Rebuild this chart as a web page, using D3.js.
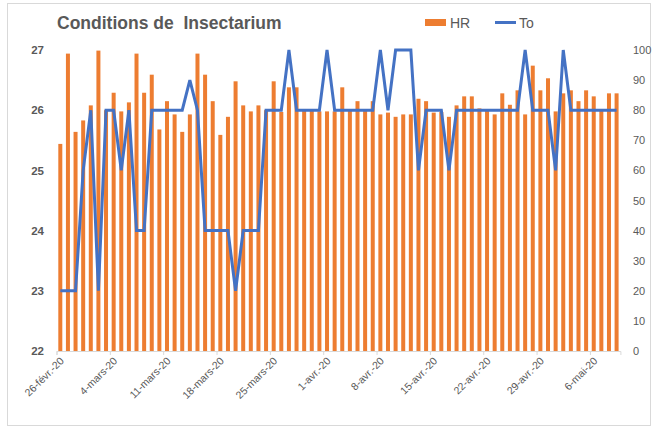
<!DOCTYPE html>
<html>
<head>
<meta charset="utf-8">
<script src="https://cdn.jsdelivr.net/npm/d3@7"></script>
<style>
  body { margin: 0; background: #fff; }
  svg { display: block; font-family: "Liberation Sans", Arial, sans-serif; }
</style>
</head>
<body>
<div id="chart"></div>
<script>
// Daily readings, 26 Feb 2020 -> 9 May 2020
const startDate = new Date(2020, 1, 26);
const hr = [
  25.44, 26.94, 25.64, 25.83, 26.08, 26.99, 26.00, 26.29, 25.98, 26.13,
  26.94, 26.29, 26.59, 25.68, 26.15, 25.93, 25.64, 25.93, 26.94, 26.59,
  26.15, 25.59, 25.89, 26.48, 26.08, 25.98, 26.08, 26.00, 26.48, 25.97,
  26.38, 26.38, 26.02, 26.02, 25.98, 25.98, 25.98, 26.38, 26.00, 26.15,
  26.00, 26.15, 25.93, 25.96, 25.89, 25.93, 25.93, 26.19, 26.15, 25.96,
  25.97, 25.89, 26.08, 26.23, 26.23, 26.03, 26.00, 25.93, 26.28, 26.09,
  26.33, 25.93, 26.74, 26.33, 26.53, 25.98, 26.28, 26.33, 26.15, 26.33,
  26.23, 26.02, 26.28, 26.28
];
const to = [
  20, 20, 20, 60, 80, 20, 80, 80, 60, 80,
  40, 40, 80, 80, 80, 80, 80, 90, 80, 40,
  40, 40, 40, 20, 40, 40, 40, 80, 80, 80,
  100, 80, 80, 80, 80, 100, 80, 80, 80, 80,
  80, 80, 100, 80, 100, 100, 100, 60, 80, 80,
  80, 60, 80, 80, 80, 80, 80, 80, 80, 80,
  80, 100, 80, 80, 80, 60, 100, 80, 80, 80,
  80, 80, 80, 80
];
const tickDates = [
  new Date(2020, 1, 26), new Date(2020, 2, 4), new Date(2020, 2, 11),
  new Date(2020, 2, 18), new Date(2020, 2, 25), new Date(2020, 3, 1),
  new Date(2020, 3, 8), new Date(2020, 3, 15), new Date(2020, 3, 22),
  new Date(2020, 3, 29), new Date(2020, 4, 6)
];
const tickLabels = [
  "26-févr.-20", "4-mars-20", "11-mars-20", "18-mars-20", "25-mars-20",
  "1-avr.-20", "8-avr.-20", "15-avr.-20", "22-avr.-20", "29-avr.-20", "6-mai-20"
];
const leftTicks = [22, 23, 24, 25, 26, 27];
const rightTicks = [0, 10, 20, 30, 40, 50, 60, 70, 80, 90, 100];

const width = 654, height = 430;
const textColor = "#595959", axisColor = "#d9d9d9";
const orange = "#ED7D31", blue = "#4472C4";

const days = hr.map((d, i) => d3.timeDay.offset(startDate, i));
const endDate = d3.timeDay.offset(startDate, hr.length);

const x = d3.scaleTime().domain([startDate, endDate]).range([56.5, 620.4]);
const yL = d3.scaleLinear().domain([22, 27]).range([351, 50]);
const yR = d3.scaleLinear().domain([0, 100]).range([351, 50]);
const center = d => x(d3.timeHour.offset(d, 12));

const svg = d3.select("#chart").append("svg")
    .attr("width", width)
    .attr("height", height);

// chart area border
svg.append("rect")
    .attr("x", 7.5).attr("y", 3.5)
    .attr("width", 643).attr("height", 422)
    .attr("fill", "none")
    .attr("stroke", axisColor);

// bars (HR)
svg.append("g")
  .selectAll("rect")
  .data(hr)
  .join("rect")
    .attr("x", (d, i) => center(days[i]) - 2)
    .attr("y", d => yL(d))
    .attr("width", 4)
    .attr("height", d => yL(22) - yL(d))
    .attr("fill", orange);

// bottom axis
const xAxis = d3.axisBottom(x)
    .tickValues(tickDates)
    .tickFormat((d, i) => tickLabels[i])
    .tickSize(4)
    .tickPadding(4);

svg.append("g")
    .attr("transform", `translate(0,${yL(22)})`)
    .call(xAxis)
    .call(g => g.select(".domain").attr("stroke", axisColor))
    .call(g => g.selectAll(".tick line").attr("stroke", axisColor))
    .call(g => g.selectAll(".tick text")
        .attr("fill", textColor)
        .attr("font-size", 10.5)
        .attr("text-anchor", "end")
        .attr("y", 0)
        .attr("dy", "0.35em")
        .attr("transform", "translate(5,8) rotate(-45)"));

// left axis
svg.append("g")
    .attr("transform", "translate(48,0)")
    .call(d3.axisLeft(yL).tickValues(leftTicks).tickFormat(d3.format("d")).tickSize(0).tickPadding(4))
    .call(g => g.select(".domain").remove())
    .call(g => g.selectAll(".tick text")
        .attr("fill", textColor)
        .attr("font-size", 11.5)
        .attr("font-weight", "bold"));

// right axis
svg.append("g")
    .attr("transform", "translate(629,0)")
    .call(d3.axisRight(yR).tickValues(rightTicks).tickSize(0).tickPadding(4))
    .call(g => g.select(".domain").remove())
    .call(g => g.selectAll(".tick text")
        .attr("fill", textColor)
        .attr("font-size", 11));

// line (To)
const line = d3.line()
    .x((d, i) => center(days[i]))
    .y(d => yR(d));

svg.append("path")
    .datum(to)
    .attr("fill", "none")
    .attr("stroke", blue)
    .attr("stroke-width", 3)
    .attr("stroke-linejoin", "miter")
    .attr("d", line);

// title
svg.append("text")
    .attr("x", 57)
    .attr("y", 29)
    .attr("fill", textColor)
    .attr("font-size", 17.5)
    .attr("font-weight", "bold")
    .attr("xml:space", "preserve")
    .style("white-space", "pre")
    .text("Conditions de  Insectarium");

// legend
const legend = svg.append("g").attr("fill", textColor).attr("font-size", 14);
legend.append("rect")
    .attr("x", 425).attr("y", 19)
    .attr("width", 21).attr("height", 7)
    .attr("fill", orange);
legend.append("text").attr("x", 450).attr("y", 28).text("HR");
legend.append("line")
    .attr("x1", 495).attr("x2", 516)
    .attr("y1", 22.5).attr("y2", 22.5)
    .attr("stroke", blue).attr("stroke-width", 3);
legend.append("text").attr("x", 519).attr("y", 28).text("To");
</script>
</body>
</html>
